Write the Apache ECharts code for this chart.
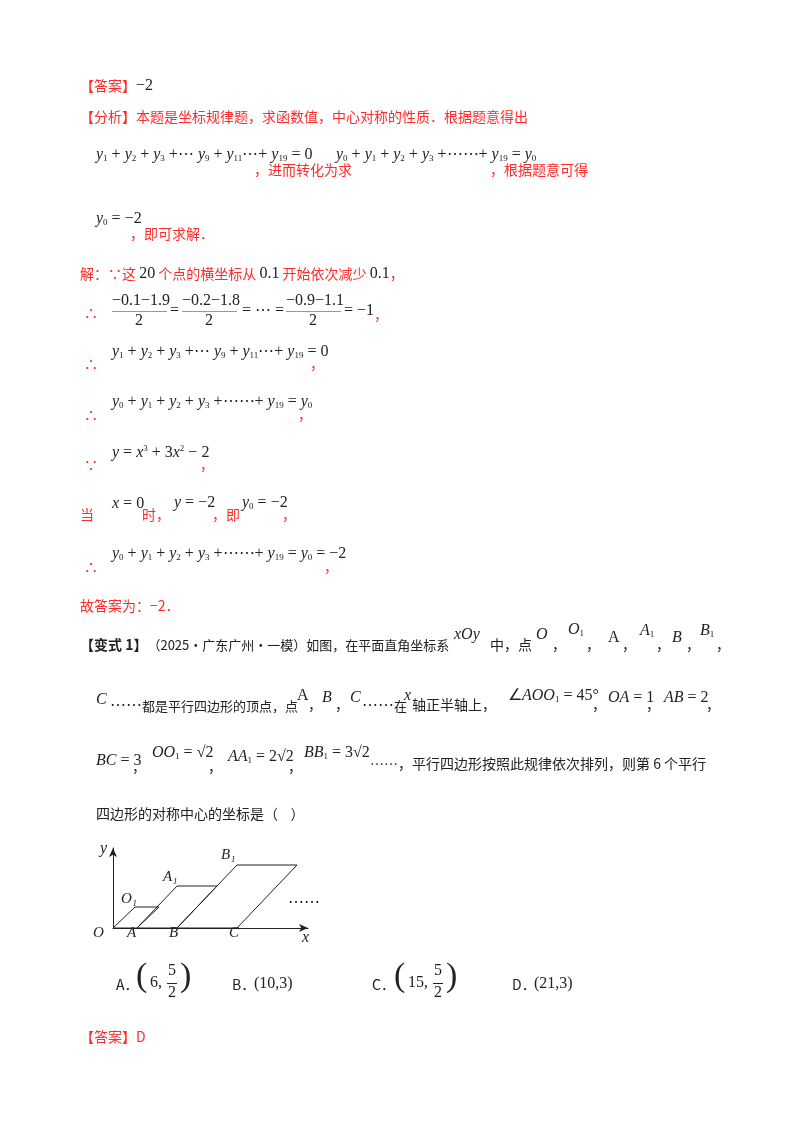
<!DOCTYPE html>
<html>
<head>
<meta charset="utf-8">
<script src="https://cdn.jsdelivr.net/npm/echarts@6/dist/echarts.min.js"></script>
<style>html,body{margin:0;padding:0;background:#fff}#main{width:800px;height:1132px}</style>
</head>
<body>
<div id="main"></div>
<script>
var chart = echarts.init(document.getElementById('main'))

// figure data (figure units, not to scale like the original)
var xRange = [0, 195]
var yRange = [0, 80]
var gramO = [[0, 0], [24, 0], [46, 21], [22, 21], [0, 0]]
var gramA = [[24, 0], [64, 0], [104, 42], [64, 42], [24, 0]]
var gramB = [[64, 0], [124, 0], [184, 63], [124, 63], [64, 0]]
var pointNames = ['O', 'A', 'B', 'C', 'O₁', 'A₁', 'B₁']
var pointPos = [[-14, -8], [20, -8], [62, -8], [122, -8], [14, 26], [56, 48], [114, 70]]

var RED = '#ff2a2a'
var INK = '#222'
var CJK = '"Noto Sans CJK SC", sans-serif'
var SERIF = '"Liberation Serif", serif'

var rich = {
  c: { fontFamily: CJK, fontSize: 14, fill: RED },
  k: { fontFamily: CJK, fontSize: 14, fill: INK },
  q: { fontFamily: CJK, fontSize: 13, fill: INK },
  b: { fontFamily: CJK, fontSize: 14, fill: INK, fontWeight: 'bold' },
  i: { fontFamily: SERIF, fontSize: 16, fontStyle: 'italic', fill: INK },
  n: { fontFamily: SERIF, fontSize: 16, fill: INK },
  L: { fontFamily: SERIF, fontSize: 34, fill: INK },
  s: { fontFamily: SERIF, fontSize: 9, fill: INK, padding: [8, 0, 0, 0] },
  p: { fontFamily: SERIF, fontSize: 9, fill: INK, padding: [0, 0, 8, 0] }
}

var gfx = []
function t(x, y, str) {
  gfx.push({ type: 'text', left: x, top: y, style: { text: str, rich: rich, font: '14px ' + CJK, fill: INK } })
}
function ys(n) { return '{i|y}{s|' + n + '}' }
var sum1 = ys(1) + '{n| + }' + ys(2) + '{n| + }' + ys(3) + '{n| +⋯ }' + ys(9) + '{n| + }' + ys(11) + '{n|⋯+ }' + ys(19) + '{n| = 0}'
var sum2 = ys(0) + '{n| + }' + ys(1) + '{n| + }' + ys(2) + '{n| + }' + ys(3) + '{n| +⋯⋯+ }' + ys(19) + '{n| = }' + ys(0)

t(80, 78, '{c|【答案】}{n|−2}')
t(80, 110, '{c|【分析】本题是坐标规律题，求函数值，中心对称的性质．根据题意得出}')
t(96, 147, sum1)
t(254, 163, '{c|，进而转化为求}')
t(336, 147, sum2)
t(490, 163, '{c|，根据题意可得}')
t(96, 211, ys(0) + '{n| = −2}')
t(130, 227, '{c|，即可求解．}')
t(80, 266, '{c|解：∵这 }{n|20}{c| 个点的横坐标从 }{n|0.1}{c| 开始依次减少 }{n|0.1}{c|，}')

// fraction row
t(84, 306, '{c|∴}')
var fr = [[112, '−0.1−1.9'], [182, '−0.2−1.8'], [286, '−0.9−1.1']]
fr.forEach(function (f) {
  t(f[0], 293, '{n|' + f[1] + '}')
  gfx.push({ type: 'rect', shape: { x: f[0], y: 311, width: 55, height: 1 }, style: { fill: '#999' } })
  t(f[0] + 23, 313, '{n|2}')
})
t(170, 303, '{n|=}')
t(242, 303, '{n|= ⋯ =}')
t(344, 303, '{n|= −1}')
t(374, 308, '{c|，}')

t(84, 357, '{c|∴}'); t(112, 344, sum1); t(310, 357, '{c|，}')
t(84, 408, '{c|∴}'); t(112, 394, sum2); t(298, 408, '{c|，}')
t(84, 458, '{c|∵}'); t(112, 444, '{i|y}{n| = }{i|x}{p|3}{n| + 3}{i|x}{p|2}{n| − 2}'); t(200, 458, '{c|，}')
t(80, 508, '{c|当}'); t(112, 496, '{i|x}{n| = 0}'); t(142, 508, '{c|时，}')
t(174, 495, '{i|y}{n| = −2}'); t(212, 508, '{c|，即}'); t(242, 495, ys(0) + '{n| = −2}'); t(282, 508, '{c|，}')
t(84, 560, '{c|∴}'); t(112, 546, sum2 + '{n| = −2}'); t(324, 560, '{c|，}')
t(80, 599, '{c|故答案为：−2．}')

t(80, 638, '{b|【变式 1】}{q|（2025·广东广州·一模）如图，在平面直角坐标系}')
t(454, 627, '{i|xOy}'); t(490, 638, '{k|中，点}')
t(536, 627, '{i|O}'); t(552, 638, '{k|，}')
t(568, 622, '{i|O}{s|1}'); t(586, 638, '{k|，}')
t(608, 630, '{n|A}'); t(622, 638, '{k|，}')
t(640, 623, '{i|A}{s|1}'); t(656, 638, '{k|，}')
t(672, 630, '{i|B}'); t(686, 638, '{k|，}')
t(700, 623, '{i|B}{s|1}'); t(716, 638, '{k|，}')

t(96, 692, '{i|C}'); t(110, 698, '{n|⋯⋯}{q|都是平行四边形的顶点，点}'); t(297, 688, '{n|A}')
t(308, 698, '{k|，}'); t(322, 690, '{i|B}'); t(335, 698, '{k|，}'); t(350, 690, '{i|C}')
t(362, 698, '{n|⋯⋯}{q|在}'); t(404, 688, '{i|x}'); t(412, 698, '{k|轴正半轴上，}')
t(508, 688, '{n|∠}{i|AOO}{s|1}{n| = 45°}'); t(592, 698, '{k|，}')
t(608, 690, '{i|OA}{n| = 1}'); t(646, 698, '{k|，}'); t(664, 690, '{i|AB}{n| = 2}'); t(706, 698, '{k|，}')

t(96, 753, '{i|BC}{n| = 3}'); t(132, 760, '{k|，}')
t(152, 745, '{i|OO}{s|1}{n| = √2}'); t(208, 760, '{k|，}')
t(228, 749, '{i|AA}{s|1}{n| = 2√2}'); t(288, 760, '{k|，}')
t(304, 745, '{i|BB}{s|1}{n| = 3√2}'); t(370, 757, '{k|⋯⋯，平行四边形按照此规律依次排列，则第 6 个平行}')
t(96, 807, '{k|四边形的对称中心的坐标是（    ）}')

// figure labels
pointNames.forEach(function (nm, i) {
  gfx.push({ type: 'text', left: 113 + pointPos[i][0] - 6, top: 928 - pointPos[i][1] - 10,
    style: { text: nm, font: 'italic 15px ' + SERIF, fill: INK } })
})
t(100, 841, '{i|y}'); t(302, 930, '{i|x}'); t(288, 895, '{n|⋯⋯}')

// choices
function frac(x, top, bot) {
  t(x, 963, '{n|' + top + '}')
  gfx.push({ type: 'rect', shape: { x: x - 1, y: 983, width: 10, height: 1 }, style: { fill: INK } })
  t(x, 985, '{n|' + bot + '}')
}
t(116, 978, '{k|A．}'); t(136, 960, '{L|(}'); t(150, 975, '{n|6,}'); frac(168, '5', '2'); t(180, 960, '{L|)}')
t(232, 978, '{k|B．}'); t(254, 976, '{n|(10,3)}')
t(372, 978, '{k|C．}'); t(394, 960, '{L|(}'); t(408, 975, '{n|15,}'); frac(434, '5', '2'); t(446, 960, '{L|)}')
t(512, 978, '{k|D．}'); t(534, 976, '{n|(21,3)}')
t(80, 1030, '{c|【答案】D}')

function gramSeries(d) {
  return { type: 'line', data: d, symbol: 'none', lineStyle: { color: INK, width: 1 }, silent: true }
}

var option = {
  animation: false,
  grid: { left: 113, top: 848, width: 195, height: 80 },
  xAxis: { type: 'value', min: xRange[0], max: xRange[1], axisLine: { lineStyle: { color: INK }, symbol: ['none', 'arrow'], symbolSize: [6, 9] },
    axisTick: { show: false }, axisLabel: { show: false }, splitLine: { show: false } },
  yAxis: { type: 'value', min: yRange[0], max: yRange[1], axisLine: { show: true, lineStyle: { color: INK }, symbol: ['none', 'arrow'], symbolSize: [6, 9] },
    axisTick: { show: false }, axisLabel: { show: false }, splitLine: { show: false } },
  series: [gramSeries(gramO), gramSeries(gramA), gramSeries(gramB)],
  graphic: gfx
}
chart.setOption(option)
</script>
</body>
</html>
